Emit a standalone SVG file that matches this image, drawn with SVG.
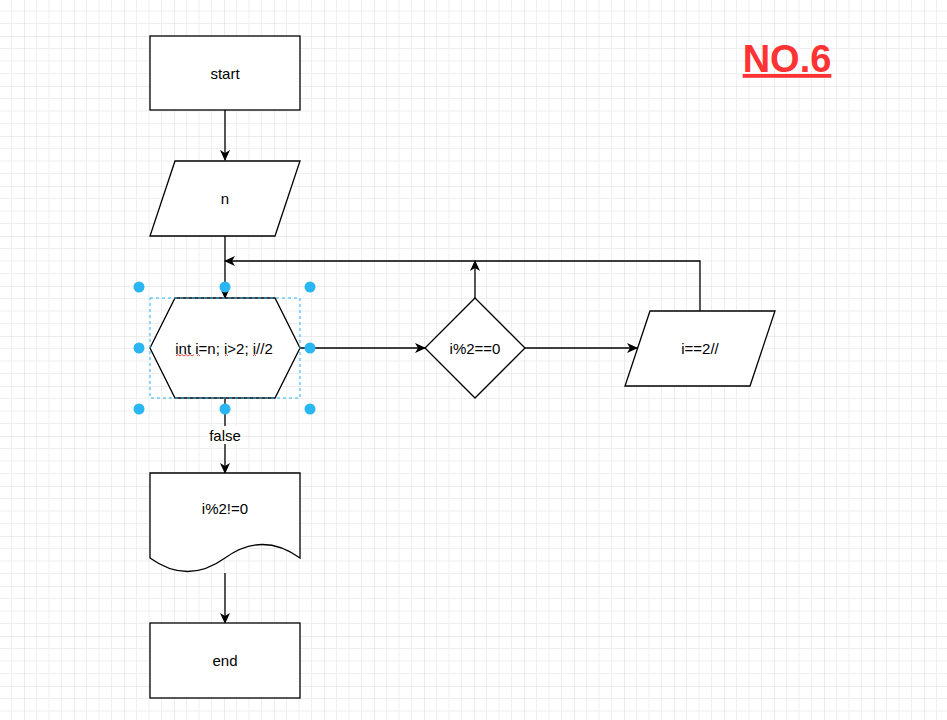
<svg xmlns="http://www.w3.org/2000/svg" width="947" height="720" viewBox="0 0 947 720">
  <defs>
    <pattern id="grid" patternUnits="userSpaceOnUse" x="24" y="36" width="50" height="50">
      <path d="M12.5,0V50M25,0V50M37.5,0V50M0,12.5H50M0,25H50M0,37.5H50" stroke="#efefef" stroke-width="1" fill="none"/>
      <path d="M0,0V50M0,0H50" stroke="#d9d9d9" stroke-width="1" fill="none"/>
    </pattern>
    <marker id="arrow" viewBox="0 0 11 10" refX="10" refY="5" markerWidth="11" markerHeight="10" markerUnits="userSpaceOnUse" orient="auto">
      <path d="M0,0 L11,5 L0,10 L3,5 Z" fill="#000"/>
    </marker>
    <style>
      .shape { fill: #fff; stroke: #000; stroke-width: 1.3; }
      .lbl { font-family: "Liberation Sans", Arial, sans-serif; font-size: 15px; fill: #000; text-anchor: middle; dominant-baseline: central; }
      .edge { fill: none; stroke: #000; stroke-width: 1.3; marker-end: url(#arrow); }
      .handle { fill: #29b6f2; }
      .squig { fill: none; stroke: #e03030; stroke-width: 0.9; }
    </style>
  </defs>

  <rect width="947" height="720" fill="#fff"/>
  <rect width="947" height="720" fill="url(#grid)"/>

  <!-- connectors -->
  <g id="connectors">
    <path class="edge" d="M225,110 V160"/>
    <path class="edge" d="M225,236 V298"/>
    <path class="edge" d="M300,348 H425"/>
    <path class="edge" d="M475,298 V261"/>
    <path class="edge" d="M525,348 H637"/>
    <path class="edge" d="M700,311 V261 H225"/>
    <path class="edge" d="M225,398 V473"/>
    <path class="edge" d="M225,573 V623"/>
    <rect x="207" y="426" width="36" height="18" fill="#fff"/>
    <text class="lbl" x="225" y="435">false</text>
  </g>

  <!-- start -->
  <g id="start">
    <rect class="shape" x="150" y="36" width="150" height="74"/>
    <text class="lbl" x="225" y="73">start</text>
  </g>

  <!-- input n -->
  <g id="input-n">
    <polygon class="shape" points="175,161 300,161 275,236 150,236"/>
    <text class="lbl" x="225" y="198.5">n</text>
  </g>

  <!-- loop header -->
  <g id="loop">
    <polygon class="shape" points="150,348 175,298 275,298 300,348 275,398 175,398"/>
    <text class="lbl" x="224" y="348">int i=n; i&gt;2; i//2</text>
    <path class="squig" d="M176,356 l2,-1.5 l2,1.5 l2,-1.5 l2,1.5 l2,-1.5 l2,1.5 l2,-1.5 l2,1.5 l2,-1.5"/>
    <path class="squig" d="M197,356 l1.5,-1.5 l1.5,1.5"/>
    <path class="squig" d="M225,356 l1.5,-1.5 l1.5,1.5"/>
    <path class="squig" d="M253,356 l1.5,-1.5 l1.5,1.5"/>
    <!-- selection frame -->
    <rect x="150" y="298" width="150" height="100" fill="none" stroke="#29b6f2" stroke-width="1" stroke-dasharray="3,3"/>
    <circle class="handle" cx="139" cy="287" r="5.5"/>
    <circle class="handle" cx="225" cy="287" r="5.5"/>
    <circle class="handle" cx="310" cy="287" r="5.5"/>
    <circle class="handle" cx="139" cy="348" r="5.5"/>
    <circle class="handle" cx="310" cy="348" r="5.5"/>
    <circle class="handle" cx="139" cy="409" r="5.5"/>
    <circle class="handle" cx="225" cy="409" r="5.5"/>
    <circle class="handle" cx="310" cy="409" r="5.5"/>
  </g>

  <!-- decision -->
  <g id="decision">
    <polygon class="shape" points="475,298 525,348 475,398 425,348"/>
    <text class="lbl" x="475" y="348">i%2==0</text>
  </g>

  <!-- update -->
  <g id="update">
    <polygon class="shape" points="650,311 775,311 750,386 625,386"/>
    <text class="lbl" x="700" y="348">i==2//</text>
  </g>

  <!-- document -->
  <g id="document">
    <path class="shape" d="M150,473 H300 V558 Q262.5,531 225,558 Q187.5,585 150,558 Z"/>
    <text class="lbl" x="225" y="508">i%2!=0</text>
  </g>

  <!-- end -->
  <g id="end">
    <rect class="shape" x="150" y="623" width="150" height="75"/>
    <text class="lbl" x="225" y="660.5">end</text>
  </g>

  <!-- title -->
  <g id="title">
    <text x="787" y="72" font-family="'Liberation Sans', Arial, sans-serif" font-size="38" font-weight="bold" fill="#ff3333" text-anchor="middle" text-decoration="underline">NO.6</text>
  </g>
</svg>
